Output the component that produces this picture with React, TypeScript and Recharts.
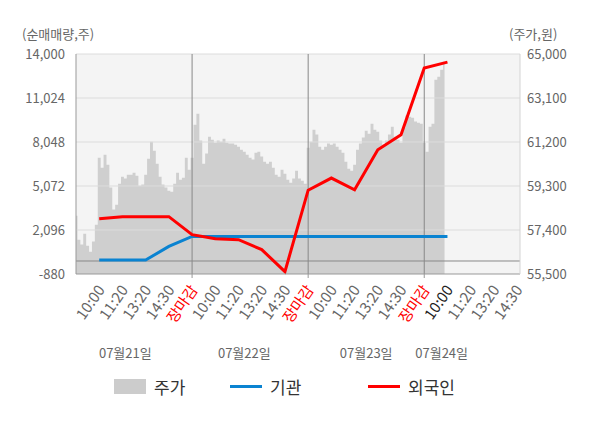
import React from 'react';
import { ComposedChart, Area, Line, XAxis, YAxis, CartesianGrid, ReferenceLine } from 'recharts';

const FONT = "'Noto Sans CJK KR', 'Noto Sans', sans-serif";

// x-axis labels, one per slot
const timeLabels = [
  '10:00', '11:20', '13:20', '14:30', '장마감',
  '10:00', '11:20', '13:20', '14:30', '장마감',
  '10:00', '11:20', '13:20', '14:30', '장마감',
  '10:00', '11:20', '13:20', '14:30',
];
const dateLabels = ['07월21일', '07월22일', '07월23일', '07월24일'];
const dateTicks = [17, 58, 100, 126];

const leftTicks = [-880, 2096, 5072, 8048, 11024, 14000];
const rightTicks = [55500, 57400, 59300, 61200, 63100, 65000];

// 주가 (원), sampled 8 per label slot, starting one slot before the first label
const price = [
  58020, 56980, 56770, 57240, 56720, 56460, 56900, 57630, 60520, 60090,
  60650, 60220, 59230, 58280, 58490, 59400, 59700, 59620, 59790, 59790,
  59870, 59740, 59310, 59360, 59790, 60480, 61210, 60820, 60260, 59700,
  59360, 59230, 59100, 59050, 59400, 59870, 59570, 59660, 60520, 60000,
  60520, 61950, 62420, 61260, 60260, 60700, 61430, 61300, 61170, 61260,
  61210, 61340, 61170, 61130, 61130, 61080, 61000, 60870, 60780, 60650,
  60520, 60440, 60740, 60780, 60570, 60350, 60260, 60350, 60090, 59790,
  59700, 60000, 59830, 59570, 59440, 59620, 59960, 59620, 59530, 59400,
  60950, 61210, 61730, 61520, 61000, 60870, 61000, 61130, 61080, 61130,
  61000, 60870, 60740, 60350, 60050, 59960, 60220, 60870, 61130, 61390,
  61690, 61560, 61990, 61730, 61640, 61260, 61080, 61260, 61520, 61860,
  61430, 61300, 61170, 61820, 62340, 62290, 62250, 62080, 62030, 61990,
  61170, 60780, 61860, 61990, 63890, 64020, 64320, 64670,
];

// 순매매량 (주), one value per label slot
const foreign = [2860, 3000, 3000, 3000, 1780, 1510, 1440, 770, -720, 4790, 5610, 4820, 7520, 8540, 13050, 13450];
const institution = [60, 60, 60, 990, 1660, 1660, 1660, 1660, 1660, 1660, 1660, 1660, 1660, 1660, 1660, 1660];

const STEP = 8;
const rows = Array.from({ length: STEP * (foreign.length + 1) + 1 }, (_, i) => {
  const slot = (i - STEP) / STEP;
  const onSlot = i >= STEP && (i - STEP) % STEP === 0;
  return {
    t: i,
    price: i < price.length ? price[i] : undefined,
    foreign: onSlot ? foreign[slot] : undefined,
    institution: onSlot ? institution[slot] : undefined,
  };
});
const timeTicks = timeLabels.map((_, k) => STEP + k * STEP);
const closeTicks = timeTicks.filter((_, k) => timeLabels[k] === '장마감');

const TimeTick = ({ x, y, payload }: any) => {
  const idx = Math.round((payload.value - STEP) / STEP);
  const label = timeLabels[idx];
  const isClose = label === '장마감';
  const fill = isClose ? '#ff0000' : idx === 15 ? '#222' : '#666';
  const tx = x + 2;
  const ty = y + 5;
  return (
    <g>
      {isClose && <line x1={x} x2={x} y1={y - 8} y2={y - 4} stroke="#999" />}
      <text
        x={tx}
        y={ty}
        dy="0.35em"
        textAnchor="end"
        transform={`rotate(-55 ${tx} ${ty})`}
        fontSize={15}
        fontFamily={FONT}
        fill={fill}
      >
        {label}
      </text>
    </g>
  );
};

const LegendItem = ({ color, bar, text }: { color: string; bar?: boolean; text: string }) => (
  <div style={{ display: 'flex', alignItems: 'center' }}>
    <div style={{ width: 32, height: bar ? 15 : 3, background: color, marginRight: 8 }} />
    <span style={{ fontSize: 17, color: '#333' }}>{text}</span>
  </div>
);

export default function App() {
  return (
    <div style={{ position: 'relative', width: 584, height: 412, fontFamily: FONT }}>
      <div style={{ position: 'absolute', left: 14, top: 16, fontSize: 13, color: '#666' }}>(순매매량,주)</div>
      <div style={{ position: 'absolute', left: 501, top: 16, fontSize: 13, color: '#666' }}>(주가,원)</div>

      <ComposedChart width={584} height={412} data={rows} margin={{ top: 46, right: 0, bottom: 50, left: 0 }}>
        <CartesianGrid xAxisId="time" yAxisId="left" horizontal={false} vertical={false} fill="#f4f4f4" />

        <XAxis
          xAxisId="time"
          dataKey="t"
          type="number"
          domain={[0, 153]}
          allowDataOverflow
          ticks={timeTicks}
          interval={0}
          height={62}
          tick={<TimeTick />}
          tickLine={false}
          axisLine={{ stroke: '#999' }}
        />
        {/* date row under the time labels */}
        <XAxis
          xAxisId="zdate"
          dataKey="t"
          type="number"
          domain={[0, 153]}
          allowDataOverflow
          ticks={dateTicks}
          interval={0}
          height={34}
          tickFormatter={(v: number) => dateLabels[dateTicks.indexOf(v)]}
          tick={{ fill: '#666', fontSize: 13, fontFamily: FONT }}
          tickLine={false}
          axisLine={false}
          tickMargin={7}
        />
        <YAxis
          yAxisId="left"
          type="number"
          domain={[-880, 14000]}
          ticks={leftTicks}
          interval={0}
          width={68}
          tickFormatter={(v: number) => v.toLocaleString('en-US')}
          tick={{ fill: '#666', fontSize: 13, fontFamily: FONT }}
          tickLine={false}
          tickMargin={5}
          axisLine={{ stroke: '#999' }}
        />
        <YAxis
          yAxisId="right"
          orientation="right"
          type="number"
          domain={[55500, 65000]}
          ticks={rightTicks}
          interval={0}
          width={72}
          tickFormatter={(v: number) => v.toLocaleString('en-US')}
          tick={{ fill: '#666', fontSize: 13, fontFamily: FONT }}
          tickLine={false}
          tickMargin={1}
          axisLine={{ stroke: '#d4d4d4' }}
        />

        <Area
          xAxisId="time"
          yAxisId="right"
          dataKey="price"
          type="step"
          fill="#cfcfcf"
          fillOpacity={1}
          stroke="none"
          isAnimationActive={false}
        />

        {leftTicks.slice(1).map((v) => (
          <ReferenceLine key={v} xAxisId="time" yAxisId="left" y={v} stroke="#dcdcdc" />
        ))}
        <ReferenceLine xAxisId="time" yAxisId="left" y={0} stroke="#888" />
        {closeTicks.map((v) => (
          <ReferenceLine key={v} xAxisId="time" yAxisId="left" x={v} stroke="#888" />
        ))}

        <Line
          xAxisId="time"
          yAxisId="left"
          dataKey="institution"
          stroke="#0a83d1"
          strokeWidth={3}
          dot={false}
          connectNulls
          isAnimationActive={false}
        />
        <Line
          xAxisId="time"
          yAxisId="left"
          dataKey="foreign"
          stroke="#ff0000"
          strokeWidth={3}
          dot={false}
          connectNulls
          isAnimationActive={false}
        />
      </ComposedChart>

      <div style={{ position: 'absolute', top: 366, left: 106, display: 'flex' }}>
        <div style={{ width: 116 }}><LegendItem color="#cccccc" bar text="주가" /></div>
        <div style={{ width: 138 }}><LegendItem color="#0a83d1" text="기관" /></div>
        <div><LegendItem color="#ff0000" text="외국인" /></div>
      </div>
    </div>
  );
}
